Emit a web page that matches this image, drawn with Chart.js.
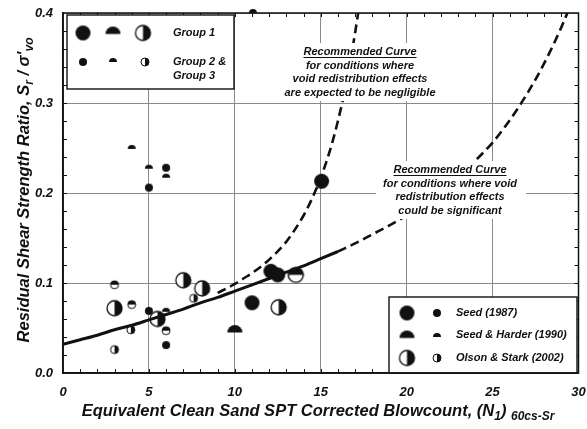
<!DOCTYPE html>
<html>
<head>
<meta charset="utf-8">
<script src="https://cdn.jsdelivr.net/npm/chart.js@4"></script>
<style>
  html, body { margin: 0; padding: 0; background: #fff; }
  #wrap { width: 587px; height: 429px; }
</style>
</head>
<body>
<div id="wrap"><canvas id="chart" width="587" height="429"></canvas></div>
<script>
// Case histories, [N1(60cs-Sr), Sr/σ'vo]
const seedBig = [[11.0, 0.078], [12.1, 0.113], [12.5, 0.109], [15.05, 0.213]];
const seedSmall = [[5.0, 0.206], [6.0, 0.228], [5.0, 0.069], [6.0, 0.031]];
const harderBig = [[10.0, 0.045]];
const harderSmall = [[4.0, 0.249], [5.0, 0.227], [6.0, 0.217], [6.0, 0.068], [11.05, 0.40]];
const olsonBig = [[7.0, 0.103], [8.1, 0.094], [3.0, 0.072], [5.5, 0.060], [12.55, 0.073]];
const olsonSmall = [[7.6, 0.083], [3.95, 0.048], [3.0, 0.026]];
const olsonBigTurned = [[13.55, 0.109]];
const olsonSmallTurned = [[3.0, 0.098], [4.0, 0.076], [6.0, 0.047]];

// recommended relationships
const solidCurve = [[0, 0.032], [1, 0.037], [2, 0.042], [3, 0.048], [4, 0.053], [5, 0.059], [6, 0.065],
  [7, 0.071], [8, 0.078], [9, 0.084], [10, 0.091], [11, 0.098], [12, 0.105], [13, 0.112],
  [14, 0.119], [15, 0.127], [16, 0.135]];
const voidSignificant = [[16, 0.135], [17, 0.144], [18, 0.154], [19, 0.164], [20, 0.175], [21, 0.187],
  [22, 0.201], [23, 0.217], [24, 0.236], [25, 0.256], [26, 0.281], [27, 0.310], [28, 0.344],
  [29, 0.384], [29.5, 0.407]];
const voidNegligible = [[9, 0.089], [10, 0.099], [10.5, 0.105], [11, 0.111], [12, 0.126], [13, 0.146],
  [14, 0.175], [14.5, 0.194], [15, 0.217], [15.5, 0.245], [16, 0.280], [16.5, 0.323],
  [17, 0.378], [17.2, 0.403]];

const xTicks = [0, 5, 10, 15, 20, 25, 30];
const yTicks = [0.0, 0.1, 0.2, 0.3, 0.4];

const INK = '#111';
const FAM = '"Liberation Sans", Arial, Helvetica, sans-serif';
const BIG = 7.5, SMALL = 4;

function marker(kind, r) {
  const s = Math.ceil(r * 2 + 4);
  const c = document.createElement('canvas');
  c.width = c.height = s;
  const g = c.getContext('2d');
  const m = s / 2;
  g.fillStyle = INK;
  g.strokeStyle = INK;
  g.lineWidth = r > 5 ? 1.3 : 1;
  if (kind === 'full') {
    g.beginPath(); g.arc(m, m, r, 0, Math.PI * 2); g.fill();
  } else if (kind === 'half') {
    g.beginPath(); g.arc(m, m, r, Math.PI, 0); g.closePath(); g.fill();
  } else {
    g.beginPath(); g.arc(m, m, r, 0, Math.PI * 2);
    g.fillStyle = '#fff'; g.fill(); g.stroke();
    g.beginPath(); g.arc(m, m, r, -Math.PI / 2, Math.PI / 2); g.closePath();
    g.fillStyle = INK; g.fill();
  }
  return c;
}

const marks = {
  fullBig: marker('full', BIG), fullSmall: marker('full', SMALL),
  halfBig: marker('half', BIG), halfSmall: marker('half', SMALL),
  splitBig: marker('split', BIG), splitSmall: marker('split', SMALL),
};

const pts = (arr) => arr.map(([x, y]) => ({ x, y }));

function points(arr, style, r, rotation) {
  return {
    data: pts(arr), pointStyle: style, pointRadius: r, rotation: rotation || 0,
    showLine: false, clip: false,
  };
}

function curve(arr, dash) {
  return {
    data: pts(arr), showLine: true, pointRadius: 0, borderColor: INK,
    borderWidth: dash ? 2.6 : 3, borderDash: dash ? [9, 5] : [],
    cubicInterpolationMode: 'monotone', fill: false,
  };
}

// subscripts for axis titles
function richText(ctx, parts, x, y, size) {
  const main = `italic bold ${size}px ${FAM}`;
  const sub = `italic bold ${Math.round(size * 0.72)}px ${FAM}`;
  let w = 0;
  parts.forEach((p) => { ctx.font = p.sub ? sub : main; w += ctx.measureText(p.t).width; });
  let cx = x - w / 2;
  ctx.textAlign = 'left';
  ctx.textBaseline = 'alphabetic';
  parts.forEach((p) => {
    ctx.font = p.sub ? sub : main;
    ctx.fillText(p.t, cx, y + (p.sub ? 4 : 0));
    cx += ctx.measureText(p.t).width;
  });
}

function noteBlock(ctx, lines, cx, top, box) {
  ctx.fillStyle = '#fff';
  ctx.fillRect(box[0], box[1], box[2], box[3]);
  ctx.fillStyle = INK;
  ctx.font = `italic bold 11px ${FAM}`;
  ctx.textAlign = 'center';
  ctx.textBaseline = 'middle';
  lines.forEach((t, i) => {
    const y = top + i * 13.6;
    ctx.fillText(t, cx, y);
    if (i === 0) {
      const w = ctx.measureText(t).width;
      ctx.fillRect(cx - w / 2, y + 5, w, 1);
    }
  });
}

function legendBox(ctx, x, y, w, h) {
  ctx.fillStyle = '#fff';
  ctx.fillRect(x, y, w, h);
  ctx.strokeStyle = INK;
  ctx.lineWidth = 1.4;
  ctx.strokeRect(x, y, w, h);
}

function stamp(ctx, img, x, y) {
  ctx.drawImage(img, x - img.width / 2, y - img.height / 2);
}

const decorations = {
  id: 'decorations',
  afterDatasetsDraw(chart) {
    const { ctx, chartArea: a, scales } = chart;
    const sx = scales.x, sy = scales.y;
    ctx.save();

    // minor ticks on all four sides
    ctx.strokeStyle = INK;
    ctx.lineWidth = 1;
    ctx.beginPath();
    for (let v = 1; v < 30; v++) {
      const px = Math.round(sx.getPixelForValue(v)) + 0.5;
      ctx.moveTo(px, a.bottom); ctx.lineTo(px, a.bottom - 4);
      ctx.moveTo(px, a.top); ctx.lineTo(px, a.top + 4);
    }
    for (let k = 1; k < 20; k++) {
      const py = Math.round(sy.getPixelForValue(k * 0.02)) + 0.5;
      ctx.moveTo(a.left, py); ctx.lineTo(a.left + 4, py);
      ctx.moveTo(a.right, py); ctx.lineTo(a.right - 4, py);
    }
    ctx.stroke();

    // curve notes
    noteBlock(ctx, ['Recommended Curve', 'for conditions where', 'void redistribution effects',
      'are expected to be negligible'], 360, 52, [280, 43, 160, 58]);
    noteBlock(ctx, ['Recommended Curve', 'for conditions where void', 'redistribution effects',
      'could be significant'], 450, 170, [376, 161, 150, 58]);

    // group legend
    legendBox(ctx, 67, 15, 167, 74);
    stamp(ctx, marks.fullBig, 83, 33);
    stamp(ctx, marks.halfBig, 113, 34);
    stamp(ctx, marks.splitBig, 143, 33);
    stamp(ctx, marks.fullSmall, 83, 62);
    stamp(ctx, marks.halfSmall, 113, 62);
    stamp(ctx, marks.splitSmall, 145, 62);
    ctx.fillStyle = INK;
    ctx.font = `italic bold 11px ${FAM}`;
    ctx.textAlign = 'left';
    ctx.textBaseline = 'middle';
    ctx.fillText('Group 1', 173, 33);
    ctx.fillText('Group 2 &', 173, 62);
    ctx.fillText('Group 3', 173, 76);

    // source legend
    legendBox(ctx, 389, 297, 188, 76);
    stamp(ctx, marks.fullBig, 407, 313);
    stamp(ctx, marks.fullSmall, 437, 313);
    stamp(ctx, marks.halfBig, 407, 338);
    stamp(ctx, marks.halfSmall, 437, 337);
    stamp(ctx, marks.splitBig, 407, 358);
    stamp(ctx, marks.splitSmall, 437, 358);
    ctx.fillStyle = INK;
    ctx.fillText('Seed (1987)', 456, 313);
    ctx.fillText('Seed & Harder (1990)', 456, 335);
    ctx.fillText('Olson & Stark (2002)', 456, 358);

    // frame
    ctx.strokeStyle = INK;
    ctx.lineWidth = 1.5;
    ctx.strokeRect(a.left, a.top, a.right - a.left, a.bottom - a.top);
    ctx.restore();
  },
  afterDraw(chart) {
    const { ctx } = chart;
    ctx.save();
    ctx.fillStyle = INK;
    richText(ctx, [
      { t: 'Equivalent Clean Sand SPT Corrected Blowcount, (N' }, { t: '1', sub: true },
      { t: ') ' }, { t: '60cs-Sr', sub: true },
    ], 318, 416, 16.5);
    ctx.translate(23, 190);
    ctx.rotate(-Math.PI / 2);
    richText(ctx, [
      { t: 'Residual Shear Strength Ratio, S' }, { t: 'r', sub: true }, { t: " / σ'" }, { t: 'vo', sub: true },
    ], 0, 6, 16.5);
    ctx.restore();
  },
};

const tickFont = { family: FAM, size: 13, style: 'italic', weight: 'bold' };

new Chart(document.getElementById('chart'), {
  type: 'scatter',
  data: {
    datasets: [
      curve(solidCurve, false),
      curve(voidSignificant, true),
      curve(voidNegligible, true),
      points(seedBig, marks.fullBig, BIG),
      points(seedSmall, marks.fullSmall, SMALL),
      points(harderBig, marks.halfBig, BIG),
      points(harderSmall, marks.halfSmall, SMALL),
      points(olsonBig, marks.splitBig, BIG),
      points(olsonSmall, marks.splitSmall, SMALL),
      points(olsonBigTurned, marks.splitBig, BIG, -90),
      points(olsonSmallTurned, marks.splitSmall, SMALL, -90),
    ],
  },
  options: {
    responsive: false,
    animation: false,
    devicePixelRatio: 1,
    layout: { padding: { left: 8, right: 7, top: 13, bottom: 0 } },
    plugins: { legend: { display: false }, tooltip: { enabled: false } },
    scales: {
      x: {
        type: 'linear', min: 0, max: 30,
        afterBuildTicks: (s) => { s.ticks = xTicks.map((v) => ({ value: v })); },
        ticks: { font: tickFont, color: INK, padding: 12, maxRotation: 0, autoSkip: false },
        grid: { color: '#8a8a8a', lineWidth: 1, drawTicks: false },
        border: { color: INK, width: 1.5 },
        afterFit: (s) => { s.height = 56; s.paddingLeft = 0; s.paddingRight = 0; },
      },
      y: {
        type: 'linear', min: 0, max: 0.4,
        afterBuildTicks: (s) => { s.ticks = yTicks.map((v) => ({ value: v })); },
        ticks: { font: tickFont, color: INK, padding: 10, callback: (v) => v.toFixed(1) },
        grid: { color: '#8a8a8a', lineWidth: 1, drawTicks: false },
        border: { color: INK, width: 1.5 },
        afterFit: (s) => { s.width = 55; s.paddingTop = 0; s.paddingBottom = 0; },
      },
    },
  },
  plugins: [decorations],
});
</script>
</body>
</html>
